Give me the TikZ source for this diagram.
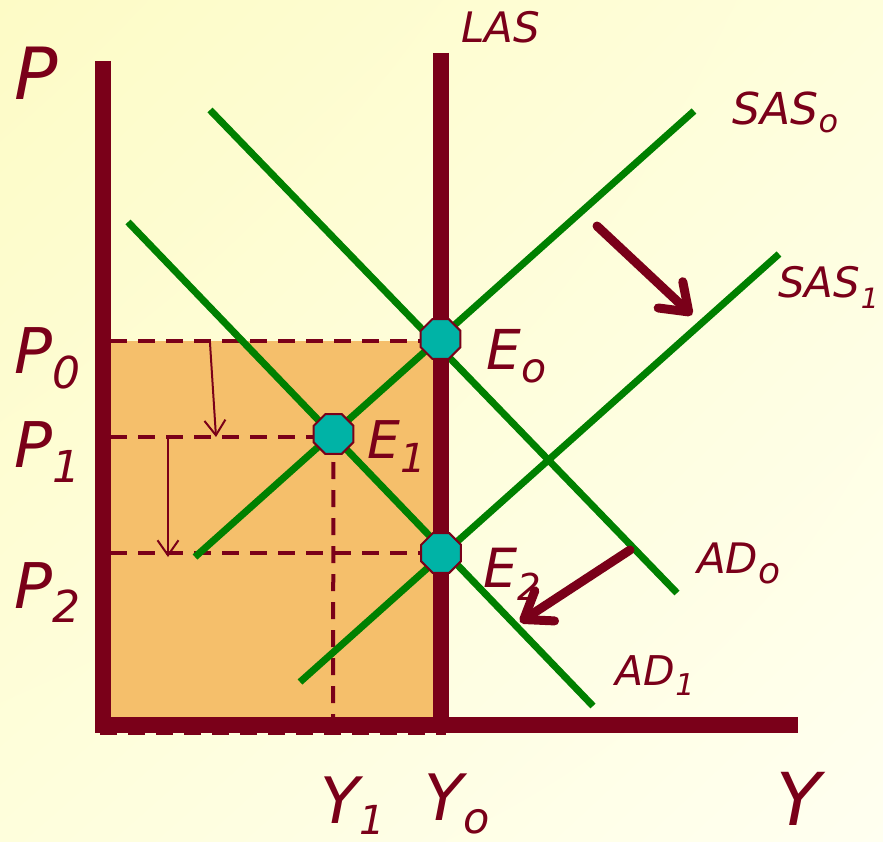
\documentclass[tikz,border=0pt]{standalone}
\usepackage{fontspec}
\setmainfont{DejaVu Sans}
\usetikzlibrary{arrows.meta,shapes.geometric,shadings}
\definecolor{dred}{HTML}{7A0019}
\definecolor{lgreen}{HTML}{008000}
\definecolor{tealq}{HTML}{00B3A6}
\definecolor{orng}{HTML}{F5BF6B}
\definecolor{bgA}{HTML}{FDFBC6}
\definecolor{bgB}{HTML}{FFFFF0}
\definecolor{bgC}{HTML}{FEFEDC}
\newcommand\sublbl[5]{\fontsize{#1pt}{#1pt}\selectfont #2\kern0.5pt\raisebox{-#5pt}{\fontsize{#3pt}{#3pt}\selectfont #4}}
\newcommand\onelbl[2]{\fontsize{#1pt}{#1pt}\selectfont #2}
\begin{document}
\begin{tikzpicture}[x=1pt,y=-1pt,
  axisline/.style={dred,line width=16pt},
  curveline/.style={lgreen,line width=7pt},
  guide/.style={dred,line width=4pt,dash pattern=on 17pt off 11pt},
  thinarr/.style={dred,line width=2pt,-{Straight Barb[length=15pt,width=21pt]}},
  bigarr/.style={dred,line width=9pt,line cap=round,-{Straight Barb[length=25pt,width=36pt,round]}},
  eqpt/.style={regular polygon,regular polygon sides=8,minimum size=43pt,inner sep=0pt,fill=tealq,draw=dred,line width=2pt},
  lab/.style={dred,anchor=base west,inner sep=0pt,font=\itshape}]
\shade[upper left=bgA,upper right=bgC,lower left=bgC,lower right=bgB] (0,0) rectangle (883,842);
\useasboundingbox (0,0) rectangle (883,842);
% coordinates
\coordinate (ptop) at (103,61);
\coordinate (pbot) at (103,733);
\coordinate (yleft) at (95,725);
\coordinate (yright) at (798,725);
\coordinate (lastop) at (440.5,53);
\coordinate (lasbot) at (440.5,725);
\coordinate (sas0a) at (195,557);
\coordinate (sas0b) at (694,111);
\coordinate (sas1a) at (300,682);
\coordinate (sas1b) at (779,254);
\coordinate (ad0a) at (210,110);
\coordinate (ad0b) at (677,593);
\coordinate (ad1a) at (128,222);
\coordinate (ad1b) at (593,706);
\coordinate (p0l) at (110,341);
\coordinate (p0r) at (440,341);
\coordinate (p1l) at (110,437);
\coordinate (p1r) at (333,437);
\coordinate (p2l) at (110,553);
\coordinate (p2r) at (440,553);
\coordinate (y1b) at (333,725);
\coordinate (bl) at (100,733);
\coordinate (br) at (446,733);
% shaded area
\fill[orng] (103,341) rectangle (440,726);
\path (440.5,339) coordinate (e0c);
\path (333.5,434) coordinate (e1c);
\path (441,553) coordinate (e2c);
% dashed guides
\draw[guide] (p0l) -- (p0r);
\draw[guide] (p1l) -- (p1r);
\draw[guide] (p2l) -- (p2r);
\draw[guide] (e1c) -- (y1b);
\draw[guide] (bl) -- (br);
% curves
\draw[curveline] (sas0a) -- (sas0b);
\draw[curveline] (sas1a) -- (sas1b);
\draw[curveline] (ad0a) -- (ad0b);
\draw[curveline] (ad1a) -- (ad1b);
% axes
\draw[axisline] (ptop) -- (pbot);
\draw[axisline] (yleft) -- (yright);
\draw[axisline] (lastop) -- (lasbot);
% equilibria
\node[eqpt] (E0) at (e0c) {};
\node[eqpt] (E1) at (e1c) {};
\node[eqpt] (E2) at (e2c) {};
% thin arrows
\coordinate (ta1s) at (210,343);
\coordinate (ta1e) at (216,437);
\coordinate (ta2s) at (168,439);
\coordinate (ta2e) at (168,557);
\draw[thinarr] (ta1s) -- (ta1e);
\draw[thinarr] (ta2s) -- (ta2e);
% shift arrows
\coordinate (ba1s) at (597,226);
\coordinate (ba1e) at (692,315);
\coordinate (ba2s) at (630,550);
\coordinate (ba2e) at (520,622);
\draw[bigarr] (ba1s) -- (ba1e);
\draw[bigarr] (ba2s) -- (ba2e);
% labels
\node[lab] (lP) at (14,100) {\onelbl{72}{P}};
\node[lab] (lP0) at (14,373) {\sublbl{63}{P}{44}{0}{15}};
\node[lab] (lP1) at (14,467) {\sublbl{63}{P}{44}{1}{15}};
\node[lab] (lP2) at (14,608) {\sublbl{63}{P}{44}{2}{14}};
\node[lab] (lY1) at (320,823) {\sublbl{64}{Y}{40}{1}{11}};
\node[lab] (lY0) at (424,820) {\sublbl{64}{Y}{43}{o}{13}};
\node[lab] (lY) at (776,825) {\onelbl{73}{Y}};
\node[lab] (lE0) at (486,369) {\sublbl{55}{E}{41}{o}{13}};
\node[lab] (lE1) at (367,458) {\sublbl{52}{E}{40}{1}{14}};
\node[lab] (lE2) at (483,587) {\sublbl{54}{E}{37}{2}{13}};
\node[lab] (lLAS) at (461,43) {\onelbl{42}{LAS}};
\node[lab] (lSAS0) at (732,125) {\sublbl{44}{SAS}{32}{o}{8}};
\node[lab] (lSAS1) at (778,298) {\sublbl{42}{SAS}{28}{1}{10}};
\node[lab] (lAD0) at (697,573) {\sublbl{42}{AD}{36}{o}{10}};
\node[lab] (lAD1) at (615,685) {\sublbl{41}{AD}{30}{1}{10}};
\end{tikzpicture}
\end{document}
